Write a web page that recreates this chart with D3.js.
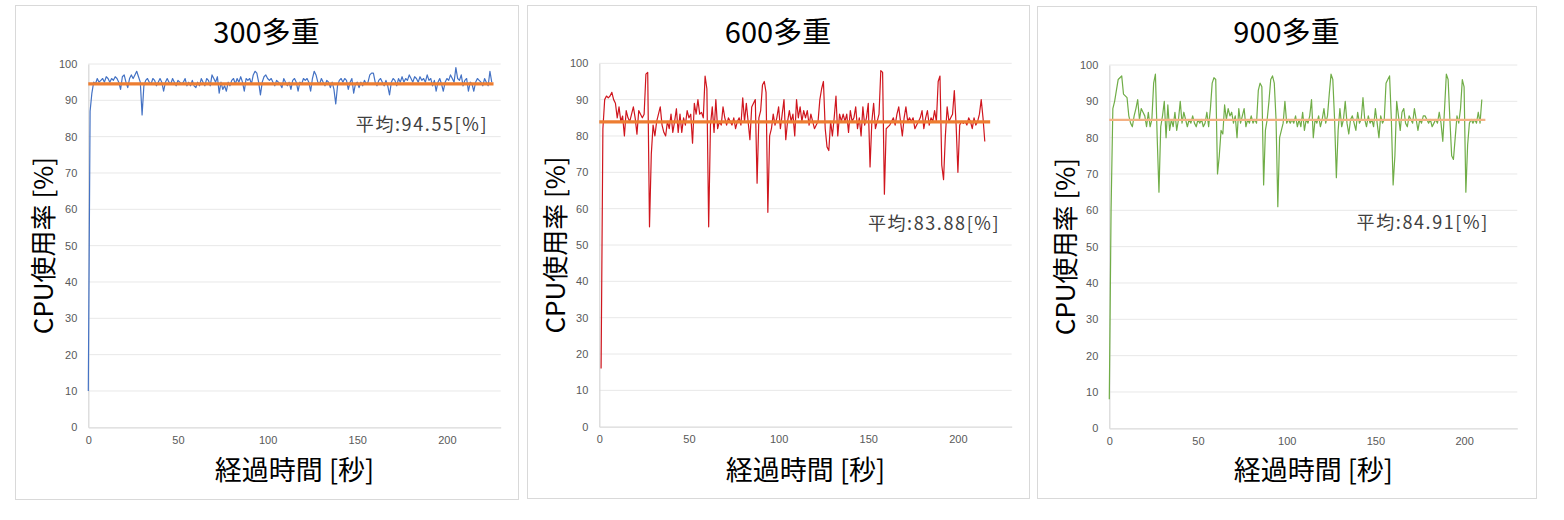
<!DOCTYPE html>
<html><head><meta charset="utf-8">
<script src="https://cdn.jsdelivr.net/npm/d3@7"></script>
<style>body{margin:0;background:#fff}</style>
</head><body>
<svg id="c" width="1564" height="520"></svg>
<script>
// ---------- data ----------
const titles = ["300多重", "600多重", "900多重"];
const averages = [94.55, 83.88, 84.91];
const averageLabels = ["平均:94.55[%]", "平均:83.88[%]", "平均:84.91[%]"];
const startTimes = [0, 1, 0];
const xTicks = [0, 50, 100, 150, 200];
const yTicks = [0, 10, 20, 30, 40, 50, 60, 70, 80, 90, 100];
const xTitle = "経過時間 [秒]";
const yTitle = "CPU使用率 [%]";
const meanSpans = [[0, 226], [0, 218], [0, 212]];
const labelAnchors = [[223, 83], [223.6, 55.5], [214, 56.2]];

const cpu300 = [10,87,92,95,94.5,96,95,95.5,96,95,96.5,96,95,96,95.5,96.5,96,95,93,96.5,
97,95,93.5,96,97,96,97,98,96.5,95,86,94,95.5,96,95,94.5,96,95.5,94,95,
96,95,92.5,95,96,95,94.5,96,95,94,95.5,95,94.5,95,96,94,95,94,95.5,94,
93.5,95,94,96,95,94,96,95.5,94,97,96,95,96.5,92,95,93,94,92.5,95,94,
95.5,96,94.5,96,95,96.5,95,92.5,96,95.5,96,94.5,97,98,97.5,95,91.5,95,96.5,97,
96,95.5,96,95,94,95.5,95,94.5,93.5,96,95,94,95,93,95.5,96,95,92.5,95,94.5,
96,95.5,96,95,92.5,96,98,97,95,94.5,96,95,94,95.5,95,93.5,95,93,89,94,
95.5,96,95,96,95.5,93,95,96,92,94.5,95,93.5,95,94,95.5,94.5,95,97,97.5,97.5,
95,94,95.5,96,95,94,95.5,94,91.5,95,96,95.5,94,96,95,96.5,95,96,95.5,97,
96,95,96.5,96,95,96.5,95.5,96,95,97,95.5,96,94,95.5,92.5,95,96,94.5,92.5,95,
96,95.5,97,96,95,99,96,95.5,97,94,95.5,96,92.5,95,94.5,92.5,95,96,95.5,95,
94,96,95,94,98,95];

const cpu600 = [16,82,90,91,90.5,91,92,90,89,85,88,84,85.5,80,87,85,84,86,88,85,
80.5,87,86,85,86,97,97.5,55,75,83,80,84,86,88,83,81,80,84,82,86,
81,84,87.5,81,86,81,85,83,87,85,86,78,89,86,90,86,86.5,85,96.5,93,
55,83,88,81,90,82,84,83,88,85,83,85,84,83,85,82,84,85,83,90.5,
84,89,84,79,88,89,90,67,85,87,94,95,92,59,80,82,86,83,85,88,
82,86,90,79,84,87,84,86,80,90,85,88,84,87,85,87,83,86,84,82,
83,84,90,93,95,82,77,76,84,80,85,91,80,86,84,86,84,86,81,87,
84,85,88,82,85,80,88,83,85,89,71.5,84,89,82,84,86,98,97.5,64,82,
82.5,83,84,85,83,86,88,84,80,85,88,84,85,84,85,82,83,84,85,87,
82,85,87,83,85,84,87,84,95,96.5,72,68,80,88,84,85,86,92.5,83,70,
83,84,83.5,84,83,85,84,82,85,83,84,86,90,85,78.5];

const cpu900 = [8,60,88,90,93,96,96.5,97,92,91.5,91,86,84,83,86,88,90.5,85,88,87,
86,83,87,83,85,95,97.5,80,65,83,86,90,80,89,82,85,83,87,82,85,
90,84,87,85,83,85,84,86,84,83,85,84,85,83,84,87,83,88,95,96.5,
96,70,75,82,81,89,85,88,86,87,84,86,80,88,84,86,88,83,85,84,
86,84,85,84,93,95,94,67,82,85,90,96,97,95,85,61,80,82,84,90,
84,85,84,85,84,86,83,85,83,87,82,85,84,86,90.5,80,85,84,86,83,
85,88,84,86,92,97.5,96,85,69,82,88,83,85,90,84,81,85,86,84,82,
87,84,85,91,85,83,86,84,85,83,88,84,80,86,84,85,95,96,97,85,
67,75,90,86,82,87,88,84,83,86,85,84,88,85,82,85,84,86,86,85,
84,85,83,84,85,84,87,84,79,88,97.5,96,85,75,74,80,86,84,88,96,
94,65,78,84,85,84,85,84,87,84,90.5];

const seriesList = [cpu300, cpu600, cpu900];
const lineColors = ["#4472C4", "#D0161E", "#70AD47"];
const meanColors = ["#ED7D31", "#ED7D31", "#F4B183"];

// ---------- layout ----------
const panels = [
  {x:15,  y:5, w:503, h:494, L:88.3,   R:500.7,  T:64,   B:427.3, meanW:3.2},
  {x:527, y:5, w:502, h:493, L:599.3,  R:1011.7, T:63.3, B:426.7, meanW:3.2},
  {x:1037,y:6, w:499, h:492, L:1109.3, R:1517.3, T:65,   B:428.3, meanW:2.2}
];

const svg = d3.select("#c");
const jp = "'Noto Sans CJK JP','Noto Sans',sans-serif";

panels.forEach((p, i) => {
  const g = svg.append("g");
  g.append("rect").attr("x", p.x + 0.5).attr("y", p.y + 0.5)
    .attr("width", p.w).attr("height", p.h)
    .attr("fill", "#fff").attr("stroke", "#D9D9D9").attr("stroke-width", 1);

  const x = d3.scaleLinear().domain([0, 230]).range([p.L, p.R]);
  const y = d3.scaleLinear().domain([0, 100]).range([p.B, p.T]);

  // gridlines
  g.append("g").selectAll("line").data(yTicks.filter(d => d > 0)).join("line")
    .attr("x1", p.L).attr("x2", p.R)
    .attr("y1", d => y(d)).attr("y2", d => y(d))
    .attr("stroke", "#E8E8E8").attr("stroke-width", 1);

  // axes
  const yAxis = d3.axisLeft(y).tickValues(yTicks).tickSize(0).tickPadding(11);
  const xAxis = d3.axisBottom(x).tickValues(xTicks).tickSize(0).tickPadding(9);
  const ya = g.append("g").attr("transform", `translate(${p.L},0)`).call(yAxis);
  const xa = g.append("g").attr("transform", `translate(0,${p.B})`).call(xAxis);
  [ya, xa].forEach(a => {
    a.select(".domain").attr("stroke", "#D9D9D9").attr("stroke-width", 1.3);
    a.selectAll("text").attr("fill", "#595959").style("font-size", "11px")
      .style("font-family", "'Liberation Sans',Arial,sans-serif");
  });

  // data line
  const data = seriesList[i].map((v, k) => ({t: startTimes[i] + k, v}));
  const line = d3.line().x(d => x(d.t)).y(d => y(d.v));
  g.append("path").datum(data).attr("d", line)
    .attr("fill", "none").attr("stroke", lineColors[i])
    .attr("stroke-width", 1.2).attr("stroke-linejoin", "round");

  // mean line
  g.append("line")
    .attr("x1", x(meanSpans[i][0])).attr("x2", x(meanSpans[i][1]))
    .attr("y1", y(averages[i])).attr("y2", y(averages[i]))
    .attr("stroke", meanColors[i]).attr("stroke-width", p.meanW);

  // average label
  g.append("text")
    .attr("x", x(labelAnchors[i][0])).attr("y", y(labelAnchors[i][1]))
    .attr("text-anchor", "end").attr("dominant-baseline", "middle")
    .attr("fill", "#404040").style("font-size", "18px").style("font-family", jp)
    .style("letter-spacing", "1.6px")
    .text(averageLabels[i]);

  // title
  g.append("text")
    .attr("x", p.x + p.w / 2).attr("y", 43)
    .attr("text-anchor", "middle").attr("fill", "#000")
    .style("font-size", "29px").style("font-family", jp)
    .text(titles[i]);

  // x title
  g.append("text")
    .attr("x", (p.L + p.R) / 2).attr("y", 480)
    .attr("text-anchor", "middle").attr("fill", "#000")
    .style("font-size", "27px").style("font-family", jp)
    .text(xTitle);

  // y title
  g.append("text")
    .attr("transform", `translate(${p.x + 38},${(p.T + p.B) / 2}) rotate(-90)`)
    .attr("text-anchor", "middle").attr("fill", "#000")
    .style("font-size", "26px").style("font-family", jp)
    .text(yTitle);
});
</script>
</body></html>
